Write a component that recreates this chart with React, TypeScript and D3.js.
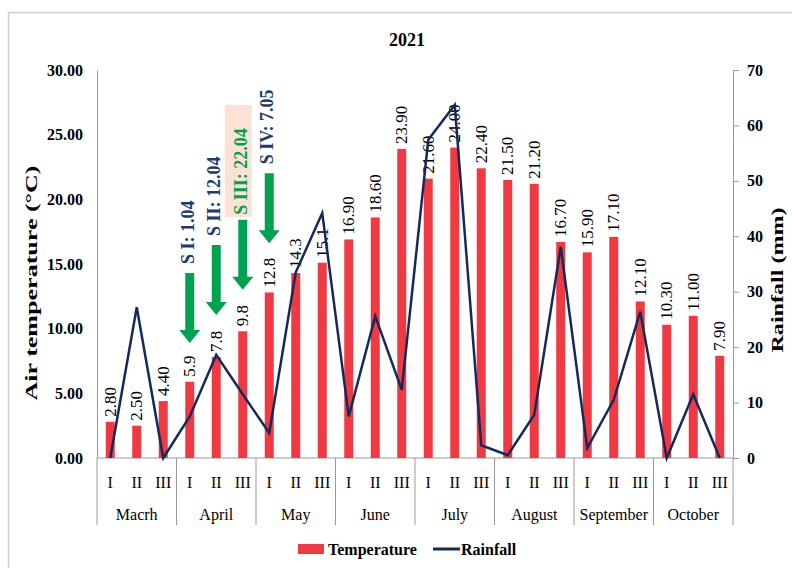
import React, {useRef, useEffect} from 'react';
import * as d3 from 'd3';

// dekad data, March - October 2021
const months = ['Macrh', 'April', 'May', 'June', 'July', 'August', 'September', 'October'];
const dekads = ['I', 'II', 'III'];
const temperature = [2.8, 2.5, 4.4, 5.9, 7.8, 9.8, 12.8, 14.3, 15.1, 16.9, 18.6, 23.9,
  21.6, 24.0, 22.4, 21.5, 21.2, 16.7, 15.9, 17.1, 12.1, 10.3, 11.0, 7.9];
const tempLabels = ['2.80', '2.50', '4.40', '5.9', '7.8', '9.8', '12.8', '14.3', '15.1', '16.90', '18.60', '23.90',
  '21.60', '24.00', '22.40', '21.50', '21.20', '16.70', '15.90', '17.10', '12.10', '10.30', '11.00', '7.90'];
const rainfall = [0, 27.2, 0, 7.5, 18.6, 11.5, 4.5, 33.5, 44.2, 7.5, 25.6, 12.3,
  57.4, 63.7, 2.3, 0.5, 7.8, 38.1, 1.8, 10.5, 26.4, 0, 11.5, 0];
const tempTicks = [0, 5, 10, 15, 20, 25, 30];
const rainTicks = [0, 10, 20, 30, 40, 50, 60, 70];

// sowing dates
const sowingLabels = ['S I: 1.04', 'S II: 12.04', 'S III: 22.04', 'S IV: 7.05'];
const sowingIndex = [3, 4, 5, 6];
const sowingTip = [8.9, 11.05, 13.0, 16.6]; // arrow tip, in °C

const FONT = "'Liberation Serif', 'Times New Roman', serif";

const App = () => {
  const svgRef = useRef(null);

  useEffect(() => {
    const svg = d3.select(svgRef.current);
    svg.selectAll('*').remove();

    const left = 97, right = 733, top = 70, bottom = 458;

    const x = d3.scaleBand()
      .domain(d3.range(temperature.length))
      .range([left, right])
      .paddingInner(0.66)
      .paddingOuter(0.33);
    const cx = (i) => x(i) + x.bandwidth() / 2;
    const y = d3.scaleLinear().domain([0, 30]).range([bottom, top]);
    const y2 = d3.scaleLinear().domain([0, 70]).range([bottom, top]);

    // frame
    svg.append('line').attr('x1', 8).attr('x2', 792).attr('y1', 12.5).attr('y2', 12.5)
      .attr('stroke', '#cfcfcf').attr('stroke-width', 1.5);
    svg.append('line').attr('x1', 8.5).attr('x2', 8.5).attr('y1', 12).attr('y2', 568)
      .attr('stroke', '#cfcfcf').attr('stroke-width', 1.5);

    svg.append('text')
      .attr('x', 407).attr('y', 40)
      .attr('text-anchor', 'middle').attr('dominant-baseline', 'central')
      .attr('font-family', FONT).attr('font-weight', 'bold').attr('font-size', 18)
      .text('2021');

    // left axis
    const gl = svg.append('g')
      .attr('transform', `translate(${left},0)`)
      .call(d3.axisLeft(y).tickValues(tempTicks).tickFormat(d3.format('.2f')).tickSize(0).tickPadding(14));
    gl.select('.domain').attr('stroke', '#999');
    gl.selectAll('text').attr('font-family', FONT).attr('font-weight', 'bold').attr('font-size', 16).attr('fill', '#000');

    // right axis
    const gr = svg.append('g')
      .attr('transform', `translate(${right},0)`)
      .call(d3.axisRight(y2).tickValues(rainTicks).tickSize(6).tickSizeOuter(0).tickPadding(8));
    gr.select('.domain').attr('stroke', '#999');
    gr.selectAll('line').attr('stroke', '#999');
    gr.selectAll('text').attr('font-family', FONT).attr('font-weight', 'bold').attr('font-size', 16).attr('fill', '#000');

    svg.append('text')
      .attr('transform', `translate(31,${(top + bottom) / 2 + 19}) rotate(-90)`)
      .attr('text-anchor', 'middle').attr('dominant-baseline', 'central')
      .attr('font-family', FONT).attr('font-weight', 'bold').attr('font-size', 17)
      .attr('textLength', 235).attr('lengthAdjust', 'spacingAndGlyphs')
      .text('Air temperature (°C)');
    svg.append('text')
      .attr('transform', `translate(777,${(top + bottom) / 2 + 16}) rotate(-90)`)
      .attr('text-anchor', 'middle').attr('dominant-baseline', 'central')
      .attr('font-family', FONT).attr('font-weight', 'bold').attr('font-size', 17)
      .attr('textLength', 145).attr('lengthAdjust', 'spacingAndGlyphs')
      .text('Rainfall (mm)');

    // category axis
    svg.append('line').attr('x1', left).attr('x2', right).attr('y1', bottom).attr('y2', bottom)
      .attr('stroke', '#999');
    const step = x.step() * 3;
    svg.append('g').selectAll('line')
      .data(d3.range(months.length + 1))
      .join('line')
      .attr('x1', d => left + d * step).attr('x2', d => left + d * step)
      .attr('y1', bottom).attr('y2', 525)
      .attr('stroke', '#999');
    svg.append('g').selectAll('text')
      .data(d3.range(temperature.length))
      .join('text')
      .attr('x', d => cx(d)).attr('y', 482)
      .attr('text-anchor', 'middle').attr('dominant-baseline', 'central')
      .attr('font-family', FONT).attr('font-size', 16)
      .text(d => dekads[d % 3]);
    svg.append('g').selectAll('text')
      .data(months)
      .join('text')
      .attr('x', (d, i) => left + (i + 0.5) * step).attr('y', 514)
      .attr('text-anchor', 'middle').attr('dominant-baseline', 'central')
      .attr('font-family', FONT).attr('font-size', 16)
      .text(d => d);

    // temperature bars
    svg.append('g').selectAll('rect')
      .data(temperature)
      .join('rect')
      .attr('x', (d, i) => x(i))
      .attr('y', d => y(d))
      .attr('width', x.bandwidth())
      .attr('height', d => bottom - y(d))
      .attr('fill', '#ef3a43');

    svg.append('g').selectAll('text')
      .data(temperature)
      .join('text')
      .attr('transform', (d, i) => `translate(${cx(i)},${y(d) - 5}) rotate(-90)`)
      .attr('dominant-baseline', 'central')
      .attr('font-family', FONT).attr('font-size', 17)
      .text((d, i) => tempLabels[i]);

    // sowing arrows
    const arrowLen = 70, shaft = 9, head = 21, headLen = 13;
    const sow = svg.append('g');
    sowingLabels.forEach((lab, k) => {
      const ax = cx(sowingIndex[k]);
      const tip = y(sowingTip[k]);
      const topY = tip - arrowLen;
      sow.append('path')
        .attr('d', `M${ax - shaft / 2},${topY} L${ax + shaft / 2},${topY} L${ax + shaft / 2},${tip - headLen}` +
          ` L${ax + head / 2},${tip - headLen} L${ax},${tip} L${ax - head / 2},${tip - headLen}` +
          ` L${ax - shaft / 2},${tip - headLen} Z`)
        .attr('fill', '#00a24f');
      const green = k === 2;
      if (green) {
        sow.append('rect')
          .attr('x', ax - 18).attr('y', topY - 115)
          .attr('width', 27).attr('height', 112)
          .attr('fill', '#fbe2d5');
      }
      sow.append('text')
        .attr('transform', `translate(${ax - 2},${topY - (green ? 5 : 9)}) rotate(-90)`)
        .attr('dominant-baseline', 'central')
        .attr('font-family', FONT).attr('font-weight', 'bold').attr('font-size', 18)
        .attr('fill', green ? '#00a24f' : '#1f3a6e')
        .text(lab);
    });

    // rainfall line
    svg.append('path')
      .datum(rainfall)
      .attr('fill', 'none')
      .attr('stroke', '#162a5a')
      .attr('stroke-width', 2.5)
      .attr('d', d3.line()
        .x((d, i) => cx(i))
        .y(d => y2(d)));

    // legend
    svg.append('rect').attr('x', 298).attr('y', 544).attr('width', 26).attr('height', 10).attr('fill', '#ef3a43');
    svg.append('text').attr('x', 328).attr('y', 549).attr('dominant-baseline', 'central')
      .attr('font-family', FONT).attr('font-weight', 'bold').attr('font-size', 16)
      .text('Temperature');
    svg.append('line').attr('x1', 433).attr('x2', 460).attr('y1', 549).attr('y2', 549)
      .attr('stroke', '#162a5a').attr('stroke-width', 3);
    svg.append('text').attr('x', 461).attr('y', 549).attr('dominant-baseline', 'central')
      .attr('font-family', FONT).attr('font-weight', 'bold').attr('font-size', 16)
      .text('Rainfall');
  }, []);

  return (
    <svg ref={svgRef} width={792} height={568}
      style={{position: 'absolute', left: 0, top: 0, background: '#fff'}}></svg>
  );
};

export default App;
